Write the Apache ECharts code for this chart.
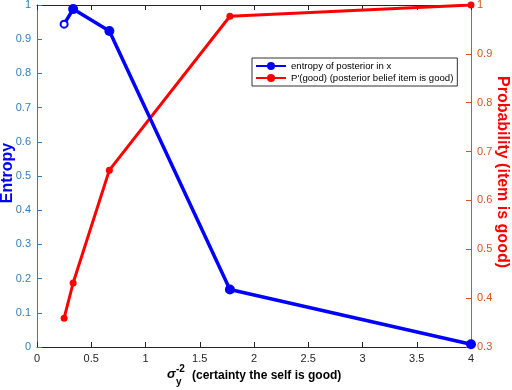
<!DOCTYPE html>
<html><head><meta charset="utf-8">
<script src="https://cdn.jsdelivr.net/npm/echarts@6/dist/echarts.min.js"></script>
<style>html,body{margin:0;padding:0;background:#fff}#c{width:512px;height:390px}</style>
</head><body><div id="c"></div>
<script>
const xValues = [0.25, 0.333, 0.667, 1.778, 4];
const entropy = [0.944, 0.988, 0.924, 0.168, 0.008];
const probGood = [0.359, 0.431, 0.662, 0.977, 1.0];
const xTicks = [0, 0.5, 1, 1.5, 2, 2.5, 3, 3.5, 4];
const seriesNames = ['entropy of posterior in x', "P'(good) (posterior belief item is good)"];
const leftTitle = 'Entropy';
const rightTitle = 'Probability (item is good)';

const chart = echarts.init(document.getElementById('c'));
const font = 'Liberation Sans, Arial, sans-serif';
const blueAx = '#2f7fc0', redAx = '#d95319';
chart.setOption({
  animation: false,
  grid: {left: 37, right: 41, top: 5, bottom: 43, containLabel: false, outerBoundsMode: 'none'},
  legend: {
    orient: 'vertical', left: 252, top: 58, itemWidth: 30, itemHeight: 10, itemGap: 2, width: 204,
    padding: [3, 4, 3, 3], borderColor: '#333', borderWidth: 1, backgroundColor: '#fff',
    textStyle: {fontFamily: font, fontSize: 9.6, color: '#000'},
    data: seriesNames
  },
  xAxis: [{
    type: 'value', min: 0, max: 4, interval: 0.5,
    axisLine: {onZero: false, lineStyle: {color: '#262626'}},
    axisTick: {inside: true, length: 5, lineStyle: {color: '#262626'}},
    axisLabel: {color: '#262626', fontFamily: font, fontSize: 11, margin: 6,
      formatter: v => xTicks.includes(v) ? String(v) : ''},
    splitLine: {show: false}
  }, {
    type: 'value', min: 0, max: 4, interval: 0.5, position: 'top',
    axisLine: {show: true, onZero: false, lineStyle: {color: '#262626'}},
    axisTick: {show: true, inside: true, length: 5, lineStyle: {color: '#262626'}},
    axisLabel: {show: false}, splitLine: {show: false}
  }],
  yAxis: [{
    type: 'value', min: 0, max: 1, interval: 0.1, position: 'left',
    axisLine: {show: true, onZero: false, lineStyle: {color: blueAx}},
    axisTick: {show: true, inside: true, length: 5, lineStyle: {color: blueAx}},
    axisLabel: {color: blueAx, fontFamily: font, fontSize: 11, margin: 6,
      formatter: v => Math.abs(v) < 1e-9 ? '0' : (Math.abs(v - 1) < 1e-9 ? '1' : v.toFixed(1))},
    splitLine: {show: false}
  }, {
    type: 'value', min: 0.3, max: 1, interval: 0.1, position: 'right',
    axisLine: {show: true, onZero: false, lineStyle: {color: redAx}},
    axisTick: {show: true, inside: true, length: 5, lineStyle: {color: redAx}},
    axisLabel: {color: redAx, fontFamily: font, fontSize: 11, margin: 6,
      formatter: v => Math.abs(v - 1) < 1e-9 ? '1' : v.toFixed(1)},
    splitLine: {show: false}
  }],
  series: [{
    name: seriesNames[0], type: 'line', yAxisIndex: 0,
    data: xValues.map((x, i) => i === 0
      ? {value: [x, entropy[i]], symbol: 'emptyCircle', symbolSize: 7}
      : [x, entropy[i]]),
    lineStyle: {color: '#0000ff', width: 3.5},
    itemStyle: {color: '#0000ff', borderWidth: 2},
    symbol: 'circle', symbolSize: 10, z: 3
  }, {
    name: seriesNames[1], type: 'line', yAxisIndex: 1,
    data: xValues.map((x, i) => [x, probGood[i]]),
    lineStyle: {color: '#ff0000', width: 3},
    itemStyle: {color: '#ff0000'},
    symbol: 'circle', symbolSize: 7, z: 2
  }],
  graphic: [
    {type: 'text', x: 8, y: 173, rotation: Math.PI / 2,
      style: {text: leftTitle, font: 'bold 16px ' + font, fill: '#0000ff', align: 'center', verticalAlign: 'middle'}},
    {type: 'text', x: 502, y: 172, rotation: -Math.PI / 2,
      style: {text: rightTitle, font: 'bold 16px ' + font, fill: '#ff0000', align: 'center', verticalAlign: 'middle'}},
    {type: 'text', left: 167, top: 368, style: {text: 'σ', font: 'bold italic 13px ' + font, fill: '#000'}},
    {type: 'text', left: 176, top: 364, style: {text: '-2', font: 'bold 10px ' + font, fill: '#000'}},
    {type: 'text', left: 176, top: 377, style: {text: 'y', font: 'bold 10px ' + font, fill: '#000'}},
    {type: 'text', left: 192, top: 370, style: {text: '(certainty the self is good)', font: 'bold 12px ' + font, fill: '#000'}}
  ]
});
</script></body></html>
